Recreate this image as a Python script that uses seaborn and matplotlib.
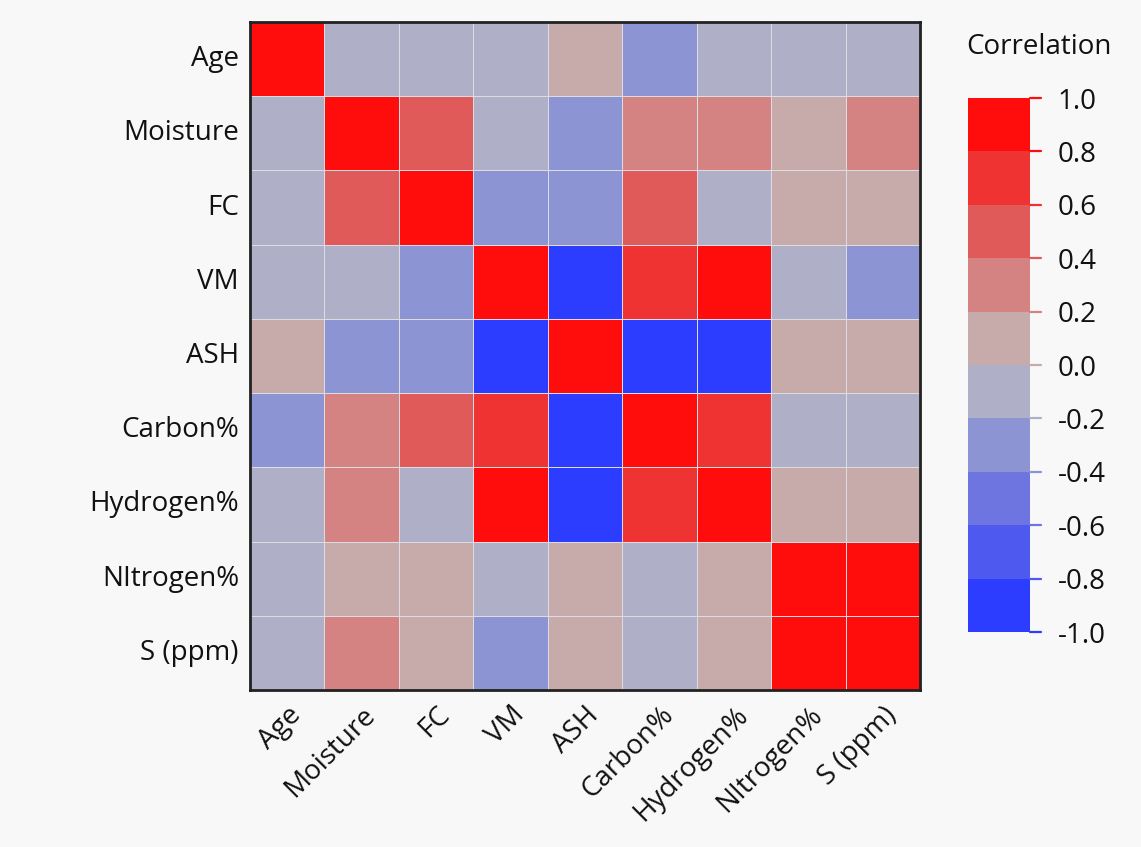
import matplotlib
matplotlib.use('Agg')

import numpy as np
import pandas as pd
import seaborn as sns
import matplotlib.pyplot as plt
import matplotlib.transforms as mtransforms
from matplotlib.colors import ListedColormap, BoundaryNorm

variables = ['Age', 'Moisture', 'FC', 'VM', 'ASH', 'Carbon%', 'Hydrogen%', 'NItrogen%', 'S (ppm)']

# correlation values (binned colours, so estimates)
age = [1.00, -0.08, -0.10, -0.07, 0.12, -0.30, -0.09, -0.10, -0.08]
moisture = [-0.08, 1.00, 0.52, -0.06, -0.28, 0.33, 0.35, 0.14, 0.36]
fc = [-0.10, 0.52, 1.00, -0.30, -0.32, 0.50, -0.12, 0.12, 0.10]
vm = [-0.07, -0.06, -0.30, 1.00, -0.95, 0.72, 0.93, -0.10, -0.32]
ash = [0.12, -0.28, -0.32, -0.95, 1.00, -0.92, -0.94, 0.11, 0.08]
carbon = [-0.30, 0.33, 0.50, 0.72, -0.92, 1.00, 0.70, -0.12, -0.09]
hydrogen = [-0.09, 0.35, -0.12, 0.93, -0.94, 0.70, 1.00, 0.10, 0.13]
nitrogen = [-0.10, 0.14, 0.12, -0.10, 0.11, -0.12, 0.10, 1.00, 0.97]
sulphur = [-0.08, 0.36, 0.10, -0.32, 0.08, -0.09, 0.13, 0.97, 1.00]

bin_colors = ['#2d3dff', '#4e5aef', '#6e75e0', '#8c94d4', '#afb0c7',
              '#c7aaaa', '#d48282', '#e05a5a', '#ef3232', '#ff0d0d']
bin_edges = np.linspace(-1, 1, 11)

corr = pd.DataFrame([age, moisture, fc, vm, ash, carbon, hydrogen, nitrogen, sulphur],
                    index=variables, columns=variables)

sns.set_style('white')
plt.rcParams['font.family'] = ['Open Sans', 'DejaVu Sans']

fig = plt.figure(figsize=(11.41, 8.47), dpi=100)
fig.patch.set_facecolor('#f8f8f8')
ax = fig.add_axes([250 / 1141, 1 - 690 / 847, 670 / 1141, 668 / 847])
cax = fig.add_axes([968 / 1141, 1 - 632 / 847, 62 / 1141, 534 / 847])

cmap = ListedColormap(bin_colors)
norm = BoundaryNorm(bin_edges, cmap.N)

sns.heatmap(corr, ax=ax, cbar_ax=cax, cmap=cmap, norm=norm,
            linewidths=0.7, linecolor='#dcdce2', square=False,
            cbar_kws={'ticks': bin_edges})

for side in ax.spines.values():
    side.set_visible(True)
    side.set_color('#222222')
    side.set_linewidth(2)

ax.tick_params(length=0, pad=8)
ax.set_yticklabels(variables, rotation=0, fontsize=20, color='#111111')
ax.set_xticklabels(variables, rotation=45, ha='right', rotation_mode='anchor',
                   fontsize=20, color='#111111')

cb = ax.collections[0].colorbar
cb.outline.set_visible(False)
cb.set_ticks(bin_edges)
cb.set_ticklabels(['%.1f' % t for t in bin_edges])
cax.tick_params(labelsize=20, labelcolor='#111111', length=0, pad=20)

# tick marks coloured like the colour bin they sit on
trans = mtransforms.blended_transform_factory(cax.transAxes, cax.transData)
tick_colors = [cmap(norm(min(v, 0.99))) for v in bin_edges]
for v, c in zip(bin_edges, tick_colors):
    cax.plot([1.0, 1.17], [v, v], transform=trans, color=c, lw=1.6, clip_on=False)

cax.set_title('Correlation', fontsize=20, pad=32, loc='left', x=-0.03, color='#111111')

plt.savefig('out.png', dpi=100, facecolor=fig.get_facecolor())
